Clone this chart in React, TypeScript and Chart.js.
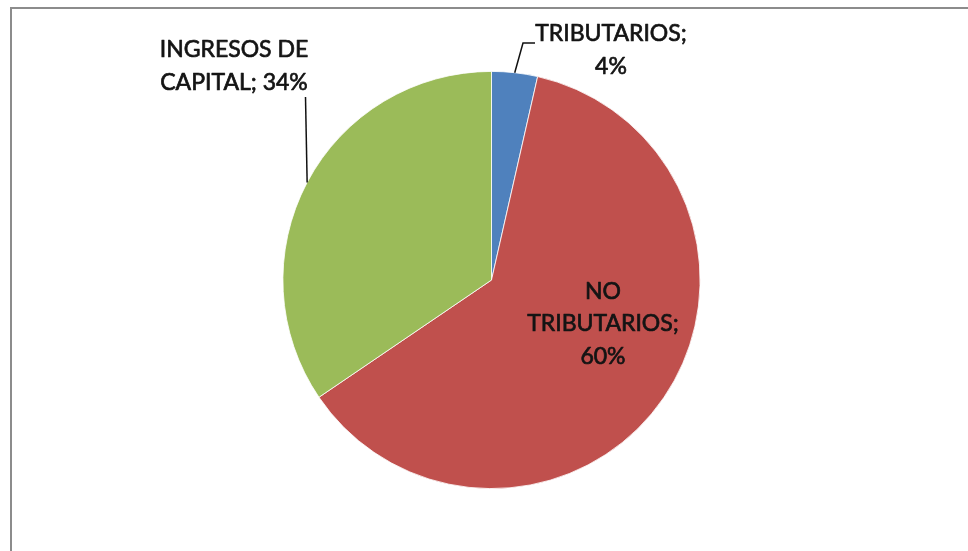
import React, { useEffect, useRef } from "react";
import { Chart, registerables } from "chart.js";

Chart.register(...registerables);

// ---- data ----
const categories = ["TRIBUTARIOS", "NO TRIBUTARIOS", "INGRESOS DE CAPITAL"];
const values = [3.55, 61.95, 34.5];
const percentLabels = ["4%", "60%", "34%"];
const labelLines = [
  ["TRIBUTARIOS;", "4%"],
  ["NO", "TRIBUTARIOS;", "60%"],
  ["INGRESOS DE", "CAPITAL; 34%"],
];
const colors = ["#4F81BD", "#C0504D", "#9BBB59"];

// label block centres, relative to pie centre (first line y)
const labelAnchors = [
  { dx: 119.5, dy: -246 },
  { dx: 111.5, dy: 11.5 },
  { dx: -257.5, dy: -230 },
];
// leader line bend points relative to pie centre (after starting at slice edge)
const leaderPoints: Array<Array<[number, number]> | null> = [
  [
    [31.5, -237],
    [43.5, -237],
  ],
  null,
  [[-186, -183]],
];

const FONT = "23px Lato, 'Open Sans', sans-serif";
const LINE_H = 32.5;

const labelPlugin = {
  id: "pieLabels",
  beforeDraw(chart: any) {
    const ctx = chart.ctx;
    ctx.save();
    ctx.fillStyle = "#ffffff";
    ctx.fillRect(0, 0, chart.width, chart.height);
    ctx.strokeStyle = "#8c8c8c";
    ctx.lineWidth = 2;
    ctx.beginPath();
    ctx.moveTo(11, chart.height);
    ctx.lineTo(11, 8);
    ctx.lineTo(chart.width, 8);
    ctx.stroke();
    ctx.restore();
  },
  afterDatasetsDraw(chart: any) {
    const ctx = chart.ctx;
    const meta = chart.getDatasetMeta(0);
    ctx.save();
    meta.data.forEach((arc: any, i: number) => {
      const p = arc.getProps(["x", "y", "startAngle", "endAngle", "outerRadius"], true);
      const cx = p.x;
      const cy = p.y;
      const pts = leaderPoints[i];
      if (pts) {
        const mid = (p.startAngle + p.endAngle) / 2;
        ctx.strokeStyle = "#111111";
        ctx.lineWidth = 1.5;
        ctx.beginPath();
        ctx.moveTo(cx + Math.cos(mid) * p.outerRadius, cy + Math.sin(mid) * p.outerRadius);
        pts.forEach(([dx, dy]) => ctx.lineTo(cx + dx, cy + dy));
        ctx.stroke();
      }
      const a = labelAnchors[i];
      ctx.font = FONT;
      ctx.fillStyle = "#141414";
      ctx.strokeStyle = "#141414";
      ctx.lineWidth = 0.7;
      ctx.lineJoin = "round";
      ctx.textAlign = "center";
      ctx.textBaseline = "middle";
      labelLines[i].forEach((t, k) => {
        ctx.fillText(t, cx + a.dx, cy + a.dy + k * LINE_H);
        ctx.strokeText(t, cx + a.dx, cy + a.dy + k * LINE_H);
      });
    });
    ctx.restore();
  },
};

export default function App() {
  const ref = useRef<HTMLCanvasElement | null>(null);
  useEffect(() => {
    document.body.style.margin = "0";
    const canvas = ref.current!;
    const chart = new Chart(canvas, {
      type: "pie",
      data: {
        labels: categories.map((c, i) => `${c}; ${percentLabels[i]}`),
        datasets: [
          {
            data: values,
            backgroundColor: colors,
            borderColor: "#ffffff",
            borderWidth: 0.8,
          },
        ],
      },
      options: {
        responsive: false,
        animation: false,
        devicePixelRatio: 1,
        layout: { padding: { left: 282.5, right: 267.5, top: 71, bottom: 62 } },
        plugins: {
          legend: { display: false },
          tooltip: { enabled: false },
          title: { display: false },
        },
      },
      plugins: [labelPlugin],
    });
    return () => chart.destroy();
  }, []);
  return (
    <canvas
      ref={ref}
      width={968}
      height={551}
      style={{ display: "block", width: 968, height: 551 }}
    />
  );
}
